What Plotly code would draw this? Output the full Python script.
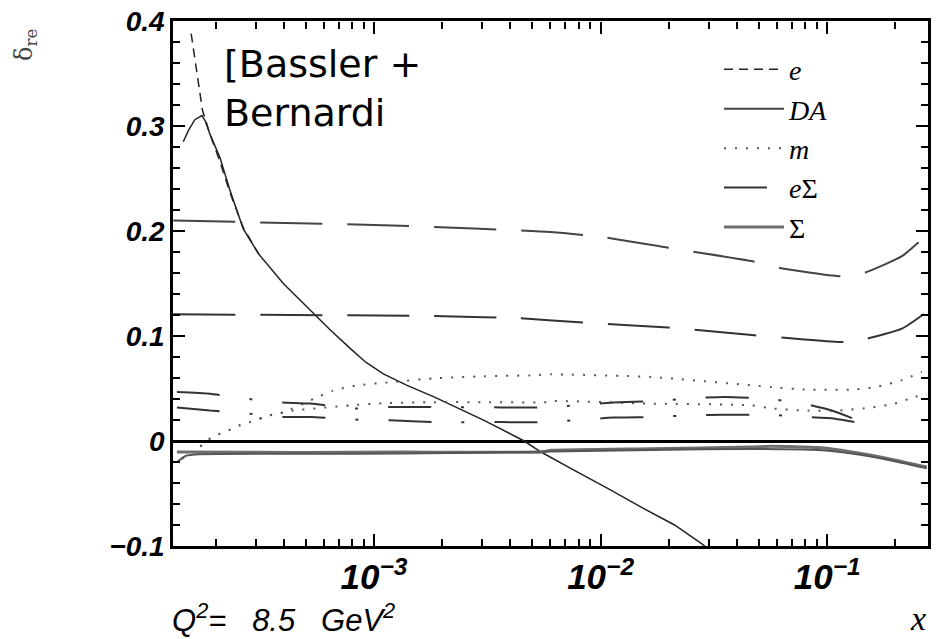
import plotly.graph_objects as go

# ---- curves: delta_rc versus x at Q^2 = 8.5 GeV^2 ----
# electron method (two settings)
x_e1 = [1.56e-4, 1.61e-4, 1.68e-4, 1.75e-4, 1.89e-4, 2.09e-4, 2.32e-4, 2.65e-4, 3.1e-4]
y_e1 = [0.388, 0.369, 0.340, 0.315, 0.292, 0.266, 0.236, 0.203, 0.178]
x_e2 = [1.44e-4, 1.52e-4, 1.62e-4, 1.74e-4, 1.80e-4, 1.89e-4, 2.09e-4, 2.32e-4, 2.65e-4, 3.1e-4,
        3.98e-4, 4.73e-4, 5.42e-4, 6.4e-4, 7.87e-4, 9.2e-4, 1.1e-3, 1.4e-3, 1.84e-3, 3.06e-3, 4.6e-3,
        5.46e-3, 7.66e-3, 1.08e-2, 1.51e-2, 2.12e-2, 2.79e-2, 2.95e-2]
y_e2 = [0.285, 0.296, 0.306, 0.310, 0.305, 0.292, 0.270, 0.238, 0.202, 0.178,
        0.150, 0.134, 0.121, 0.106, 0.088, 0.075, 0.064, 0.053, 0.042, 0.0197, 0.0,
        -0.0105, -0.028, -0.0453, -0.063, -0.080, -0.0977, -0.102]

# double angle method
x_da1 = [1.3e-4, 1.31e-3, 6.04e-3, 1.04e-2, 1.99e-2, 4.73e-2, 6.11e-2, 0.1125, 0.1452, 0.2138, 0.2618, 0.281]
y_da1 = [0.210, 0.205, 0.199, 0.194, 0.184, 0.171, 0.165, 0.157, 0.160, 0.176, 0.192, 0.198]
x_da2 = [1.3e-4, 1.78e-3, 4.32e-3, 8.04e-3, 1.99e-2, 4.78e-2, 7.71e-2, 0.1183, 0.1496, 0.2138, 0.2673]
y_da2 = [0.1207, 0.119, 0.117, 0.113, 0.108, 0.1007, 0.097, 0.0943, 0.0975, 0.107, 0.121]

# mixed method
x_m1 = [1.42e-4, 1.57e-4, 1.74e-4, 1.89e-4, 2.09e-4, 2.32e-4, 2.56e-4, 2.84e-4, 3.2e-4, 3.55e-4, 3.98e-4,
        5.4e-4, 6.6e-4, 8.45e-4, 1.18e-3, 1.83e-3, 3.05e-3, 5.08e-3, 6.04e-3, 1.67e-2, 4.63e-2,
        5.69e-2, 7.96e-2, 0.1324, 0.169, 0.2138, 0.2618]
y_m1 = [-0.0168, -0.0105, -0.004, 0.0023, 0.007, 0.0109, 0.015, 0.018, 0.022, 0.025, 0.0273,
        0.040, 0.048, 0.053, 0.056, 0.0597, 0.0616, 0.0626, 0.0635, 0.061, 0.053,
        0.0514, 0.049, 0.049, 0.052, 0.058, 0.0657]
x_m2 = [1.42e-4, 1.57e-4, 1.74e-4, 1.89e-4, 2.09e-4, 2.32e-4, 2.56e-4, 2.84e-4, 3.2e-4, 3.55e-4, 3.98e-4,
        4.41e-4, 7.87e-4, 1.1e-3, 1.83e-3, 3.05e-3, 5.86e-3, 6.04e-3, 1.67e-2, 4.63e-2,
        5.69e-2, 7.96e-2, 0.1125, 0.1574, 0.199, 0.2438, 0.2754]
y_m2 = [-0.0168, -0.0105, -0.004, 0.0023, 0.007, 0.0109, 0.015, 0.018, 0.022, 0.025, 0.0273,
        0.029, 0.034, 0.036, 0.037, 0.037, 0.037, 0.038, 0.0356, 0.034,
        0.031, 0.029, 0.029, 0.032, 0.0356, 0.042, 0.045]

# e-Sigma method
x_es1 = [1.35e-4, 1.89e-4, 2.65e-4, 3.73e-4, 5.24e-4, 8.28e-4, 1.18e-3, 1.83e-3, 3.63e-3, 5.62e-3,
         1.14e-2, 1.76e-2, 2.47e-2, 3.52e-2, 5.51e-2, 7.71e-2, 0.1047, 0.169]
y_es1 = [0.0467, 0.0451, 0.0406, 0.037, 0.0356, 0.031, 0.0324, 0.0324, 0.032, 0.032,
         0.0366, 0.038, 0.0407, 0.042, 0.040, 0.036, 0.029, 0.0118]
x_es2 = [1.35e-4, 1.89e-4, 2.65e-4, 3.73e-4, 5.24e-4, 8.28e-4, 1.18e-3, 1.83e-3, 3.63e-3, 5.62e-3,
         1.14e-2, 1.76e-2, 2.47e-2, 3.52e-2, 5.51e-2, 7.71e-2, 0.1082, 0.157]
y_es2 = [0.032, 0.029, 0.0267, 0.0229, 0.0229, 0.0204, 0.0197, 0.018, 0.018, 0.018,
         0.0223, 0.0229, 0.0245, 0.025, 0.025, 0.023, 0.0213, 0.015]

# Sigma method
x_s1 = [1.35e-4, 4.73e-4, 1.31e-3, 5.46e-3, 6.04e-3, 1.67e-2, 4.63e-2, 5.69e-2, 9.18e-2, 0.1285, 0.187, 0.2754]
y_s1 = [-0.0105, -0.0110, -0.0105, -0.0105, -0.0089, -0.0073, -0.0057, -0.005, -0.0063, -0.0105, -0.0168, -0.0248]
x_s2 = [1.35e-4, 1.48e-4, 1.70e-4, 1.31e-3, 6.04e-3, 1.67e-2, 4.63e-2, 9.18e-2, 0.1285, 0.187, 0.2754]
y_s2 = [-0.020, -0.014, -0.0125, -0.012, -0.010, -0.0085, -0.0075, -0.0085, -0.012, -0.018, -0.026]

DARK = "#222222"
GREY = "#6e6e6e"
DASH_E = "9px,6px"
DASH_DA = "62px,25px"
DASH_M = "2px,9px"
DASH_ES = "43px,30px,3px,30px"
X_RANGE = [-3.887, -0.555]

fig = go.Figure()

def curve(x, y, name, color, width, dash, show, rank=1000, shape="spline", xaxis="x"):
    fig.add_trace(go.Scatter(
        x=x, y=y, mode="lines", name=name, showlegend=show, legendrank=rank, xaxis=xaxis,
        line=dict(color=color, width=width, dash=dash, shape=shape,
                  smoothing=0.5 if shape == "spline" else None),
        hoverinfo="skip",
    ))

curve(x_e1, y_e1, "<i>e</i>", DARK, 1.5, DASH_E, True, 1, "linear")
curve(x_e2, y_e2, "e2", DARK, 1.5, "solid", False, shape="linear")
curve(x_da1, y_da1, "<i>DA</i>", "#444444", 2, DASH_DA, True, 2)
curve(x_da2, y_da2, "DA2", "#333333", 2, DASH_DA, False, xaxis="x3")
curve(x_m1, y_m1, "<i>m</i>", "#555555", 2, DASH_M, True, 3)
curve(x_m2, y_m2, "m2", "#555555", 2, DASH_M, False)
curve(x_es1, y_es1, "<i>e</i>Σ", "#333333", 2, DASH_ES, True, 4)
curve(x_es2, y_es2, "eS2", "#333333", 2, DASH_ES, False)
curve(x_s1, y_s1, "Σ", GREY, 3, "solid", True, 5)
curve(x_s2, y_s2, "S2", "#555555", 2, "solid", False, xaxis="x2")

tick_font = dict(family="Liberation Sans", size=28, color="black", style="italic", weight="bold")
x_minor = dict(ticks="outside", ticklen=7, tickwidth=1.5, tickcolor="black", dtick="D1", showgrid=False)

def px_x(p):
    return (p - 173) / 755

def px_y(p):
    return 1 - (p - 21) / 525

fig.update_layout(
    template="none",
    width=936, height=639,
    margin=dict(l=173, r=8, t=21, b=93),
    paper_bgcolor="white", plot_bgcolor="rgba(0,0,0,0)",
    # labelled log axis along the bottom
    xaxis=dict(
        type="log", range=X_RANGE, dtick=1, exponentformat="power", showexponent="all",
        tickfont=tick_font, ticks="", ticklabelstandoff=0,
        showline=True, linewidth=2.5, linecolor="black", mirror=True,
        showgrid=False, zeroline=False,
    ),
    # tick marks pointing up from the bottom edge
    xaxis2=dict(
        type="log", range=X_RANGE, dtick=1, overlaying="x", side="top", anchor="free", position=0,
        ticks="outside", ticklen=12, tickwidth=2, tickcolor="black", minor=x_minor,
        showticklabels=False, showline=False, showgrid=False, zeroline=False,
    ),
    # tick marks pointing down from the top edge
    xaxis3=dict(
        type="log", range=X_RANGE, dtick=1, overlaying="x", side="bottom", anchor="free", position=1,
        ticks="outside", ticklen=12, tickwidth=2, tickcolor="black", minor=x_minor,
        showticklabels=False, showline=False, showgrid=False, zeroline=False,
    ),
    yaxis=dict(
        range=[-0.1, 0.4], dtick=0.1, tick0=0, tickfont=tick_font,
        ticks="inside", ticklen=12, tickwidth=2, tickcolor="black",
        minor=dict(ticks="inside", ticklen=7, tickwidth=1.5, tickcolor="black", dtick=0.02, showgrid=False),
        showline=True, linewidth=2.5, linecolor="black", mirror="ticks",
        showgrid=False, zeroline=True, zerolinecolor="black", zerolinewidth=2.5,
    ),
    legend=dict(
        x=px_x(719), y=0.955, xanchor="left", yanchor="top",
        font=dict(family="Liberation Serif", size=28, color="black"),
        bgcolor="rgba(0,0,0,0)", tracegroupgap=0, itemwidth=60,
    ),
    annotations=[
        dict(text="δ<sub>re</sub>", textangle=-90, x=px_x(25), y=px_y(45),
             xref="paper", yref="paper", xanchor="center", yanchor="middle",
             showarrow=False, font=dict(family="DejaVu Serif", size=24, color="#444444")),
        dict(text="[Bassler +<br>Bernardi", x=px_x(222), y=px_y(40),
             xref="paper", yref="paper", xanchor="left", yanchor="top", align="left",
             showarrow=False, font=dict(family="DejaVu Sans", size=38, color="black")),
        dict(text="<i>Q<sup>2</sup>=\u00a0\u00a0\u00a08.5\u00a0\u00a0\u00a0GeV<sup>2</sup></i>",
             x=px_x(170), y=px_y(618), xref="paper", yref="paper",
             xanchor="left", yanchor="middle", showarrow=False,
             font=dict(family="Liberation Sans", size=31, color="black")),
        dict(text="<i>x</i>", x=px_x(918), y=px_y(618),
             xref="paper", yref="paper", xanchor="center", yanchor="middle", showarrow=False,
             font=dict(family="Liberation Serif", size=34, color="black")),
    ],
)

fig.write_html("out.html")
